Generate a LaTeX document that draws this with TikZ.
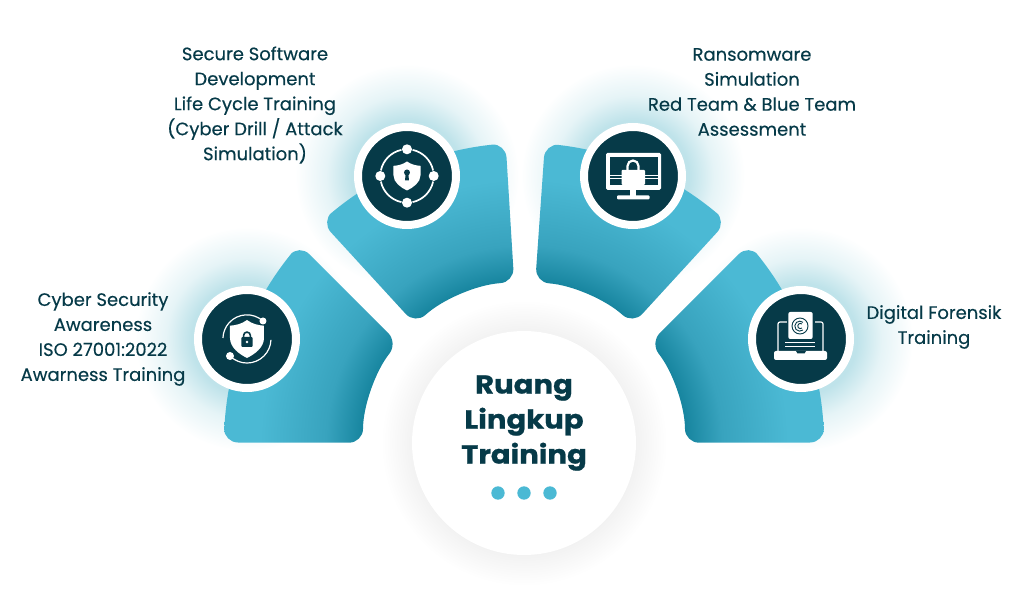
\documentclass[tikz,border=0pt]{standalone}
\usepackage{fontspec}
\newfontfamily\labelfont[FakeBold=0.35]{Poppins}
\newfontfamily\titlefont[FakeStretch=1.12,BoldFont={Poppins Bold},BoldFeatures={FakeBold=0.8}]{Poppins}
\definecolor{inkdark}{HTML}{063A48}
\definecolor{tealdark}{HTML}{17859F}
\definecolor{tealmid}{HTML}{38A3BE}
\definecolor{teallight}{HTML}{4BB9D4}
\definecolor{glowteal}{HTML}{BFE3EA}
\definecolor{halogray}{HTML}{F2F2F2}
\pgfdeclareradialshading{bladeshade}{\pgfpoint{0bp}{0bp}}{color(0bp)=(tealdark); color(13.5bp)=(tealdark); color(16.5bp)=(tealmid); color(22bp)=(teallight); color(50bp)=(teallight)}
\pgfdeclareradialshading{ringglow}{\pgfpoint{0bp}{0bp}}{color(0bp)=(glowteal); color(12.5bp)=(glowteal); color(18bp)=(glowteal!40!white); color(25bp)=(white); color(50bp)=(white)}
\pgfdeclareradialshading{hubhalo}{\pgfpoint{0bp}{0bp}}{color(0bp)=(halogray); color(19.5bp)=(halogray); color(25bp)=(white); color(50bp)=(white)}
\tikzset{
  ringdisc/.style={circle, draw=white, line width=8pt, fill=inkdark, minimum size=98pt, inner sep=0pt},
  hubdisc/.style={circle, fill=white, minimum size=224pt, inner sep=0pt},
  itemtext/.style={align=center, text=inkdark, font=\labelfont\fontsize{18}{25}\selectfont},
  hubtitle/.style={align=center, text=inkdark, font=\titlefont\bfseries\fontsize{26}{35}\selectfont},
  iconline/.style={draw=white, line width=1.2pt},
}
\newcommand{\shieldfill}[2]{%
  \fill[white, x=#1pt, y=#2pt] (0,1) .. controls (.3,.8) and (.65,.72) .. (1,.7)
    -- (1,.05) .. controls (1,-.45) and (.45,-.8) .. (0,-1)
    .. controls (-.45,-.8) and (-1,-.45) .. (-1,.05)
    -- (-1,.7) .. controls (-.65,.72) and (-.3,.8) .. (0,1) -- cycle;}
\begin{document}
\begin{tikzpicture}[x=1pt, y=1pt]
    \useasboundingbox (-524,-156) rectangle (500,443);
    \foreach \ringpos in {(-277,104), (-117,267), (109,267), (277,104)} {
      \shade[shading=ringglow] \ringpos circle (112);
    }
    \shade[shading=hubhalo] (0,0) circle (143);
    \foreach \from/\to/\back/\home in {179.9/138.5/141.5/179.9, 132.5/93.5/93.5/132.5, 86/47.5/47.5/86, 41.5/0.1/0.1/38.5} {
      \path[rounded corners=14pt, path picture={
          \shade[shading=bladeshade] (0,0) circle (300);}]
        (\from:300) arc[start angle=\from, end angle=\to, radius=300]
        -- (\back:161) arc[start angle=\back, end angle=\home, radius=161] -- cycle;
    }
    \node[hubdisc] (hub) at (0,0) {};
    \node[hubtitle] (hubtext) at (0,20) {Ruang\\Lingkup\\Training};
    \foreach \x in {-26,0,26} {
      \fill[teallight] (\x,-50) circle (6.7);
    }
    \node[ringdisc] (ringA) at (-277,104) {};
    \node[ringdisc] (ringB) at (-117,267) {};
    \node[ringdisc] (ringC) at (109,267) {};
    \node[ringdisc] (ringD) at (277,104) {};
    \node[itemtext] (textA) at (-421,104) {Cyber Security\\Awareness\\ISO 27001:2022\\Awarness Training};
    \node[itemtext] (textB) at (-269,338) {Secure Software\\Development\\Life Cycle Training\\(Cyber Drill / Attack\\Simulation)};
    \node[itemtext] (textC) at (228,351) {Ransomware\\Simulation\\Red Team \& Blue Team\\Assessment};
    \node[itemtext] (textD) at (410,116) {Digital Forensik\\Training};
    \begin{scope}[shift={(ringA.center)}]
      \shieldfill{17}{19}
      \fill[inkdark, rounded corners=1pt] (-5.7,-8) rectangle (5.7,2);
      \draw[inkdark, line width=1.6pt] (-3.4,2) -- (-3.4,3.5) arc[start angle=180, end angle=0, radius=3.4] -- (3.4,2);
      \fill[white] (0,-3) circle (1.3);
      \draw[iconline] (16,18) arc[start angle=48, end angle=178, radius=24];
      \draw[iconline] (-17,-17) arc[start angle=225, end angle=358, radius=24];
      \fill[white] (16,18) circle (3.5);
      \fill[white] (-17,-17) circle (4);
    \end{scope}
    \begin{scope}[shift={(ringB.center)}]
      \shieldfill{13.5}{14.5}
      \fill[inkdark] (0,3.5) circle (3);
      \fill[inkdark] (-1.2,3.5) -- (1.2,3.5) -- (2,-4.5) -- (-2,-4.5) -- cycle;
      \foreach \a in {0,90,180,270} {
        \draw[iconline, line width=1.7pt] (\a+12:26.7) arc[start angle=\a+12, end angle=\a+78, radius=26.7];
        \fill[white] (\a:26.7) circle (5);
      }
    \end{scope}
    \begin{scope}[shift={(ringC.center)}]
      \fill[white, rounded corners=1.5pt] (-27,-14) rectangle (28,23);
      \fill[inkdark] (-23,-9) rectangle (24.5,19);
      \fill[white] (-23,-3.5) rectangle (24.5,-2.5);
      \fill[white] (-23,-0.5) rectangle (24.5,0.5);
      \fill[white, rounded corners=1pt] (-11.5,-9) rectangle (12,6);
      \draw[white, line width=2.2pt] (-5.5,6) -- (-5.5,10) arc[start angle=180, end angle=0, radius=5.5] -- (5.5,6);
      \fill[white] (-3,-20) rectangle (3,-14);
      \fill[white, rounded corners=1pt] (-16,-23.5) rectangle (16.5,-19.5);
    \end{scope}
    \begin{scope}[shift={(ringD.center)}]
      \draw[iconline, rounded corners=2pt] (-23,-12) -- (-23,17) -- (22,17) -- (22,-12);
      \fill[inkdark] (-14.5,-1) rectangle (13.5,28.5);
      \fill[white, rounded corners=2pt] (-12.7,0) rectangle (11.7,27);
      \draw[inkdark, line width=0.9pt] (-1,13) circle (8);
      \draw[inkdark, line width=0.9pt] (2,9) arc[start angle=-50, end angle=-310, radius=5];
      \draw[inkdark, line width=0.9pt] (1,11) arc[start angle=-50, end angle=-310, radius=2.6];
      \draw[white, line width=1pt] (-16,-4) -- (14,-4);
      \draw[white, line width=1pt] (-16,-8) -- (14,-8);
      \fill[white, rounded corners=2pt] (-27,-21) rectangle (26,-12);
      \fill[inkdark] (-5,-12) -- (5,-12) -- (3.5,-14.5) -- (-3.5,-14.5) -- cycle;
    \end{scope}
  \end{tikzpicture}
\end{document}
